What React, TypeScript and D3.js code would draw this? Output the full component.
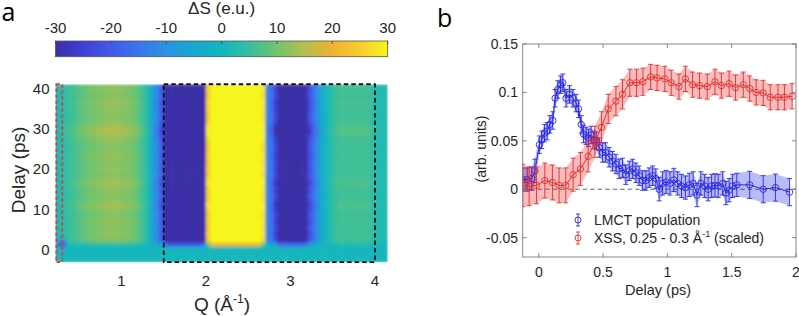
import React from 'react';
import * as d3 from 'd3';

const W = 799;
const H = 316;

// ---------- Panel a data ----------
const cmapValues = [-30, -25, -20, -15, -10, -5, 0, 5, 10, 15, 20, 25, 30];
const cmapColors = ['#3b2fa6', '#4040d8', '#4458ea', '#3a75ee', '#2a92e0', '#15a8d2', '#12b6be',
  '#35bfa0', '#72c46c', '#b4be4e', '#f0b232', '#f8cc2c', '#f6f51c'];
const colorbarTicks = [-30, -20, -10, 0, 10, 20, 30];
const qTicks = [1, 2, 3, 4];
const delayTicks = [0, 10, 20, 30, 40];

// late-time ΔS profile vs Q (column centres 0.225, 0.275, ... 4.125)
const qProfile = [
  2, 2, 4, 5, 6, 7, 8, 9, 10, 10,
  11, 11, 12, 12, 12, 12, 11, 11, 10, 9,
  7, 5, 1, -8, -12, -20, -45, -60, -60, -60,
  -60, -60, -60, -60, -60, -40, 25, 60, 60, 60,
  60, 60, 60, 60, 60, 60, 60, 60, 60, 28,
  -12, -15, -25, -50, -50, -50, -50, -50, -50, -50,
  -22, -15, -10, -4, 1, 3, 5, 6, 6, 6,
  6, 6, 6, 6, 6, 4, 2, 2, 2,
];
// amplitude of each delay row (row centres -2.5, -1.5, ... 40.5 ps)
const delayAmp = [
  0, 0, 0, 0.02, 0.35, 0.95, 1.0, 1.05, 0.95, 1.0,
  1.05, 0.95, 1.0, 1.1, 1.15, 1.0, 0.95, 1.05, 1.0, 1.15,
  1.1, 0.95, 1.0, 1.05, 0.95, 1.0, 1.05, 1.0, 0.95, 1.0,
  1.05, 1.15, 1.25, 1.2, 1.05, 1.0, 0.95, 1.05, 1.0, 1.1,
  1.0, 0.95, 1.05, 1.0,
];
// early transient spot near low Q
const spotCol = [1, 2, 1, 2];
const spotRow = [4, 4, 5, 5];
const spotVal = [-24, -18, -10, -6];

// ---------- Panel b data ----------
const lmctDelay = [-0.125, -0.09, -0.055, -0.03, 0.005, 0.023, 0.044, 0.065, 0.086, 0.109,
  0.127, 0.148, 0.169, 0.187, 0.212, 0.239, 0.265, 0.29, 0.309, 0.33,
  0.348, 0.368, 0.387, 0.407, 0.43, 0.446, 0.47, 0.496, 0.52, 0.547,
  0.573, 0.6, 0.625, 0.651, 0.677, 0.703, 0.73, 0.755, 0.78, 0.807,
  0.833, 0.858, 0.885, 0.91, 0.936, 0.963, 0.99, 1.02, 1.05, 1.08,
  1.11, 1.14, 1.17, 1.2, 1.23, 1.26, 1.29, 1.317, 1.344, 1.37,
  1.395, 1.43, 1.455, 1.48, 1.507, 1.54, 1.64, 1.745, 1.84, 1.95];
const lmctValue = [0.010, 0.010, 0.011, 0.019, 0.046, 0.051, 0.058, 0.060, 0.067, 0.071,
  0.094, 0.103, 0.108, 0.110, 0.094, 0.098, 0.094, 0.089, 0.083, 0.067,
  0.057, 0.055, 0.053, 0.056, 0.051, 0.050, 0.043, 0.038, 0.038, 0.033,
  0.029, 0.026, 0.021, 0.022, 0.015, 0.019, 0.021, 0.017, 0.014, 0.009,
  0.009, 0.012, 0.014, 0.011, 0.000, 0.006, 0.0075, 0.006, 0.0096, 0.006,
  0.0034, 0.0017, 0.0045, 0.006, -0.006, 0.006, 0.0034, 0.000, 0.0034, 0.004,
  0.0034, 0.006, -0.004, -0.001, 0.0034, 0.0045, 0.0045, 0.000, 0.0017, -0.003];
const lmctErr = [0.012, 0.012, 0.012, 0.012, 0.009, 0.009, 0.009, 0.009, 0.009, 0.009,
  0.009, 0.009, 0.009, 0.009, 0.009, 0.009, 0.009, 0.009, 0.009, 0.009,
  0.009, 0.009, 0.009, 0.009, 0.009, 0.009, 0.010, 0.010, 0.010, 0.010,
  0.010, 0.010, 0.010, 0.010, 0.010, 0.010, 0.010, 0.010, 0.010, 0.010,
  0.010, 0.010, 0.010, 0.010, 0.012, 0.012, 0.012, 0.012, 0.012, 0.012,
  0.012, 0.012, 0.012, 0.012, 0.012, 0.012, 0.012, 0.012, 0.012, 0.012,
  0.012, 0.012, 0.012, 0.012, 0.012, 0.012, 0.014, 0.014, 0.014, 0.014];

const xssDelay = [-0.125, -0.075, -0.018, 0.047, 0.106, 0.158, 0.21, 0.267, 0.324, 0.384,
  0.436, 0.488, 0.54, 0.6, 0.651, 0.708, 0.76, 0.81, 0.87, 0.92,
  0.98, 1.03, 1.09, 1.14, 1.196, 1.25, 1.31, 1.37, 1.42, 1.48,
  1.53, 1.59, 1.64, 1.69, 1.745, 1.80, 1.86, 1.91, 1.97];
const xssValue = [0.004, 0.003, 0.004, 0.009, 0.007, 0.004, 0.004, 0.015, 0.021, 0.034,
  0.049, 0.064, 0.083, 0.091, 0.098, 0.110, 0.110, 0.111, 0.116, 0.115,
  0.114, 0.110, 0.106, 0.114, 0.108, 0.107, 0.106, 0.111, 0.107, 0.109,
  0.105, 0.108, 0.104, 0.100, 0.0995, 0.095, 0.095, 0.095, 0.096];
const xssErr = [0.022, 0.020, 0.019, 0.018, 0.018, 0.018, 0.018, 0.017, 0.017, 0.016,
  0.016, 0.016, 0.015, 0.015, 0.015, 0.014, 0.014, 0.014, 0.013, 0.013,
  0.013, 0.013, 0.013, 0.013, 0.013, 0.013, 0.013, 0.013, 0.013, 0.013,
  0.013, 0.013, 0.013, 0.013, 0.013, 0.013, 0.013, 0.013, 0.013];
const bXTicks = [0, 0.5, 1, 1.5, 2];
const bYTicks = [-0.05, 0, 0.05, 0.1, 0.15];

const FONT = 'Liberation Sans, Arial, sans-serif';
const TXT = '#262626';

const BLUE = 'rgb(40,40,228)';
const RED = 'rgb(228,45,45)';

function Series({ xs, ys, es, x, y, color, band }) {
  const pts = xs.map((d, i) => ({ d, v: ys[i], e: es[i] }));
  const area = d3.area<any>().x(p => x(p.d)).y0(p => y(p.v - p.e)).y1(p => y(p.v + p.e));
  const line = d3.line<any>().x(p => x(p.d)).y(p => y(p.v));
  return (
    <g>
      <path d={area(pts) || ''} fill={band} fillOpacity={0.3} stroke="none" />
      <path d={line(pts) || ''} fill="none" stroke={color} strokeWidth={1} />
      {pts.map((p, i) => (
        <g key={i} stroke={color} strokeWidth={0.9} fill="none">
          <line x1={x(p.d)} x2={x(p.d)} y1={y(p.v - p.e)} y2={y(p.v + p.e)} />
          <line x1={x(p.d) - 2.5} x2={x(p.d) + 2.5} y1={y(p.v - p.e)} y2={y(p.v - p.e)} />
          <line x1={x(p.d) - 2.5} x2={x(p.d) + 2.5} y1={y(p.v + p.e)} y2={y(p.v + p.e)} />
          <circle cx={x(p.d)} cy={y(p.v)} r={3.2} />
        </g>
      ))}
    </g>
  );
}

export default function App() {
  // panel a scales
  const xQ = d3.scaleLinear().domain([1, 4]).range([121.5, 375]);
  const yD = d3.scaleLinear().domain([0, 40]).range([250, 88.3]);
  const qMin = 0.22, qMax = 4.15, dMin = -3, dMax = 41;
  const cScale = d3.scaleLinear<string>()
    .domain(cmapValues)
    .range(cmapColors)
    .interpolate(d3.interpolateRgb)
    .clamp(true);
  const qCenters = qProfile.map((_, i) => 0.225 + 0.05 * i);
  const dCenters = delayAmp.map((_, i) => -2.5 + i);

  const cells = [];
  dCenters.forEach((t, r) => {
    qCenters.forEach((q, c) => {
      let v = qProfile[c] * delayAmp[r];
      for (let k = 0; k < spotCol.length; k++) {
        if (spotCol[k] === c && spotRow[k] === r) v = spotVal[k];
      }
      const x0 = xQ(q - 0.025), x1 = xQ(q + 0.025);
      const y0 = yD(t + 0.5), y1 = yD(t - 0.5);
      cells.push(<rect key={r + '-' + c} x={x0} y={y0} width={x1 - x0 + 0.6} height={y1 - y0 + 0.6} fill={cScale(v)} />);
    });
  });

  const hx0 = xQ(qMin), hx1 = xQ(qMax), hy0 = yD(dMax), hy1 = yD(dMin);

  // colorbar
  const cbX = d3.scaleLinear().domain([-30, 30]).range([hx0, hx1]);
  const cbY0 = 41, cbY1 = 56.7;

  // panel b scales
  const xB = d3.scaleLinear().domain([-0.125, 2]).range([522.7, 796]);
  const yB = d3.scaleLinear().domain([-0.07, 0.15]).range([257, 44]);
  const bx0 = xB(-0.125), bx1 = xB(2), by0 = yB(0.15), by1 = yB(-0.07);

  return (
    <svg width={W} height={H} viewBox={`0 0 ${W} ${H}`}
      style={{ position: 'absolute', left: 0, top: 0, background: '#fff' }}
      fontFamily={FONT}>
      <defs>
        <linearGradient id="cmapGrad" x1="0" x2="1" y1="0" y2="0">
          {cmapColors.map((c, i) => (
            <stop key={i} offset={(cmapValues[i] + 30) / 60} stopColor={c} />
          ))}
        </linearGradient>
        <clipPath id="heatClip">
          <rect x={hx0} y={hy0} width={hx1 - hx0} height={hy1 - hy0} />
        </clipPath>
        <clipPath id="bClip">
          <rect x={bx0} y={by0} width={bx1 - bx0} height={by1 - by0} />
        </clipPath>
        <filter id="soft" x="0" y="0" width="1" height="1">
          <feGaussianBlur stdDeviation="1.5" edgeMode="duplicate" />
        </filter>
      </defs>
      <rect x={0} y={0} width={W} height={H} fill="#fff" />

      {/* panel labels */}
      <text x={1.5} y={20.5} fontSize={25} fontFamily="Open Sans, sans-serif" fill="#000">a</text>
      <text x={437} y={26.7} fontSize={25} fontFamily="Open Sans, sans-serif" fill="#000">b</text>

      {/* colorbar */}
      <text x={(hx0 + hx1) / 2} y={14} fontSize={17} textAnchor="middle" fill={TXT}>ΔS (e.u.)</text>
      <rect x={hx0} y={cbY0} width={hx1 - hx0} height={cbY1 - cbY0} fill="url(#cmapGrad)" stroke="#555" strokeWidth={0.8} />
      {colorbarTicks.map(t => (
        <g key={t}>
          <line x1={cbX(t)} x2={cbX(t)} y1={cbY0} y2={cbY0 + 3} stroke="#444" strokeWidth={0.8} />
          <text x={cbX(t)} y={33} fontSize={15} textAnchor="middle" fill={TXT}>{t}</text>
        </g>
      ))}

      {/* heatmap */}
      <g clipPath="url(#heatClip)">
        <g filter="url(#soft)">{cells}</g>
      </g>
      <rect x={xQ(1.5)} y={hy0} width={xQ(4.0) - xQ(1.5)} height={hy1 - hy0}
        fill="none" stroke="#111" strokeWidth={1.8} strokeDasharray="4.5,3" />
      <rect x={hx0 + 0.8} y={hy0} width={xQ(0.3) - hx0 - 0.8} height={hy1 - hy0}
        fill="none" stroke="#e53a3a" strokeWidth={1.8} strokeDasharray="3.5,2.5" />
      {delayTicks.map(t => (
        <text key={t} x={49.5} y={yD(t) + 5.3} fontSize={15} textAnchor="end" fill={TXT}>{t}</text>
      ))}
      {qTicks.map(t => (
        <text key={t} x={xQ(t)} y={286} fontSize={15} textAnchor="middle" fill={TXT}>{t}</text>
      ))}
      <text transform={`translate(25,170) rotate(-90)`} fontSize={19} textAnchor="middle" fill={TXT}>Delay (ps)</text>
      <text x={222} y={311} fontSize={19} textAnchor="middle" fill={TXT}>
        Q (Å<tspan fontSize={12} dy={-8}>-1</tspan><tspan dy={8}>)</tspan>
      </text>

      {/* panel b */}
      <g clipPath="url(#bClip)">
        <line x1={bx0} x2={bx1} y1={yB(0)} y2={yB(0)} stroke="#555" strokeWidth={0.9} strokeDasharray="4.5,3" />
        <Series xs={lmctDelay} ys={lmctValue} es={lmctErr} x={xB} y={yB} color={BLUE} band="rgb(30,30,240)" />
        <Series xs={xssDelay} ys={xssValue} es={xssErr} x={xB} y={yB} color={RED} band="rgb(240,30,30)" />
      </g>
      <rect x={bx0} y={by0} width={bx1 - bx0} height={by1 - by0} fill="none" stroke="#7a7a7a" strokeWidth={0.9} />
      {bXTicks.map(t => (
        <g key={t}>
          <line x1={xB(t)} x2={xB(t)} y1={by1} y2={by1 - 4} stroke="#7a7a7a" strokeWidth={0.9} />
          <line x1={xB(t)} x2={xB(t)} y1={by0} y2={by0 + 4} stroke="#7a7a7a" strokeWidth={0.9} />
          <text x={xB(t)} y={277} fontSize={14} textAnchor="middle" fill={TXT}>{t}</text>
        </g>
      ))}
      {bYTicks.map(t => (
        <g key={t}>
          <line x1={bx0} x2={bx0 + 4} y1={yB(t)} y2={yB(t)} stroke="#7a7a7a" strokeWidth={0.9} />
          <line x1={bx1} x2={bx1 - 4} y1={yB(t)} y2={yB(t)} stroke="#7a7a7a" strokeWidth={0.9} />
          <text x={518} y={yB(t) + 5} fontSize={14} textAnchor="end" fill={TXT}>{t}</text>
        </g>
      ))}
      <text x={658} y={295} fontSize={14.5} textAnchor="middle" fill={TXT}>Delay (ps)</text>
      <text transform={`translate(486,149) rotate(-90)`} fontSize={14} textAnchor="middle" fill={TXT}>(arb. units)</text>

      {/* legend */}
      {[{ c: BLUE, y: 220, label: 'LMCT population' }, { c: RED, y: 238, label: null }].map((l, i) => (
        <g key={i}>
          <g stroke={l.c} strokeWidth={0.9} fill="none">
            <line x1={578} x2={578} y1={l.y - 6} y2={l.y + 6} />
            <line x1={576} x2={580} y1={l.y - 6} y2={l.y - 6} />
            <line x1={576} x2={580} y1={l.y + 6} y2={l.y + 6} />
            <circle cx={578} cy={l.y} r={3} />
          </g>
          {l.label ? (
            <text x={594} y={l.y + 5} fontSize={14} fill={TXT}>{l.label}</text>
          ) : (
            <text x={594} y={l.y + 5} fontSize={14} fill={TXT}>
              XSS, 0.25 - 0.3 Å<tspan fontSize={9} dy={-6}>-1</tspan><tspan dy={6}> (scaled)</tspan>
            </text>
          )}
        </g>
      ))}
    </svg>
  );
}
